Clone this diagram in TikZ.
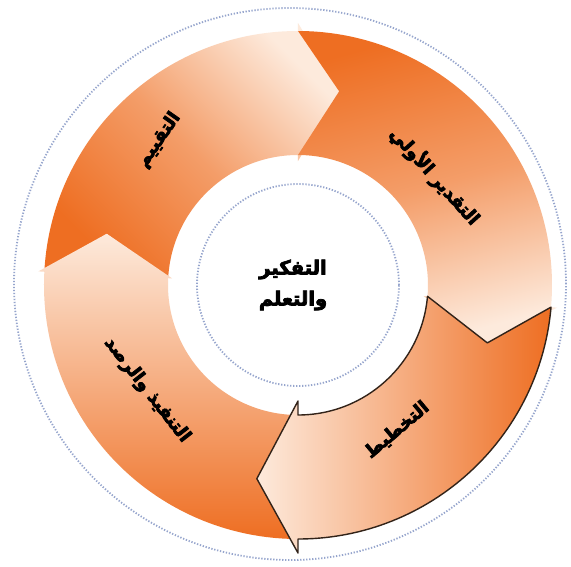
\documentclass[tikz,border=0pt]{standalone}
\usepackage{fontspec}
\newfontfamily\arabicfont[Script=Arabic, BoldFeatures={FakeBold=4}]{DejaVu Sans}
\TeXXeTstate=1
\definecolor{dark}{RGB}{238,110,34}
\definecolor{light}{RGB}{253,234,220}
\colorlet{mid}{dark!62!light}
\definecolor{dotc}{RGB}{150,165,205}
\definecolor{edge}{RGB}{50,35,25}
\begin{document}
\begin{tikzpicture}[x=1pt,y=1pt,
  lbl/.style={font=\arabicfont\bfseries\fontsize{18}{20}\selectfont, text=black, inner sep=0pt},
  ctr/.style={font=\arabicfont\bfseries\fontsize{19.5}{31}\selectfont, text=black, align=center, inner sep=0pt},
  dotring/.style={draw=dotc, line width=1.8pt, dash pattern=on 1.3pt off 1.7pt},
  edgeline/.style={draw=edge, line width=1.4pt, line join=round}
]
\useasboundingbox (-298,-281) rectangle (273,285);
\fill[white] (-298,-281) rectangle (273,285);
% dotted circles
\draw[dotring] (-8,1) circle[radius=276];
\draw[dotring] (0,0) circle[radius=101];
% arrow 1: evaluation (top-left)
\path[top color=light, bottom color=dark, middle color=mid, shading angle=-45]
  (177:254) -- (165:198) -- (177:130)
  arc[start angle=177, end angle=90, radius=130]
  -- (90:124) -- (78:198) -- (90:262) -- (90:254)
  arc[start angle=90, end angle=177, radius=254] -- cycle;
% arrow 2: initial estimate (top-right)
\path[top color=dark, bottom color=light, middle color=mid, shading angle=15]
  (90:254) -- (78:198) -- (90:130)
  arc[start angle=90, end angle=-5, radius=130]
  -- (-5:126) -- (-17:198) -- (-5:260) -- (-5:254)
  arc[start angle=-5, end angle=90, radius=254] -- cycle;
% arrow 4: implementation (bottom-left)
\path[top color=light, bottom color=dark]
  (270:254) -- (258:198) -- (270:130)
  arc[start angle=270, end angle=177, radius=130]
  -- (177:126) -- (165:198) -- (177:260) -- (177:254)
  arc[start angle=177, end angle=270, radius=254] -- cycle;
% arrow 3: planning (bottom-right), outlined
\path[left color=light, right color=dark, edgeline]
  (-5:254) -- (-17:198) -- (-5:130)
  arc[start angle=-5, end angle=-90, radius=130]
  -- (-90:116) -- (-102:198) -- (-90:268) -- (-90:254)
  arc[start angle=-90, end angle=-5, radius=254] -- cycle;
% labels
\node[lbl, rotate=55] (eval) at (-139,145) {\beginR التقييم\endR};
\node[lbl, rotate=-48] (est) at (137,109) {\beginR التقدير الأولي\endR};
\node[lbl, rotate=40] (plan) at (99,-145) {\beginR التخطيط\endR};
\node[lbl, rotate=-52] (impl) at (-151,-105) {\beginR التنفيذ والرصد\endR};
\node[ctr] (center) at (-5,0) {\beginR التفكير\endR\\\beginR والتعلم\endR};
\end{tikzpicture}
\end{document}
